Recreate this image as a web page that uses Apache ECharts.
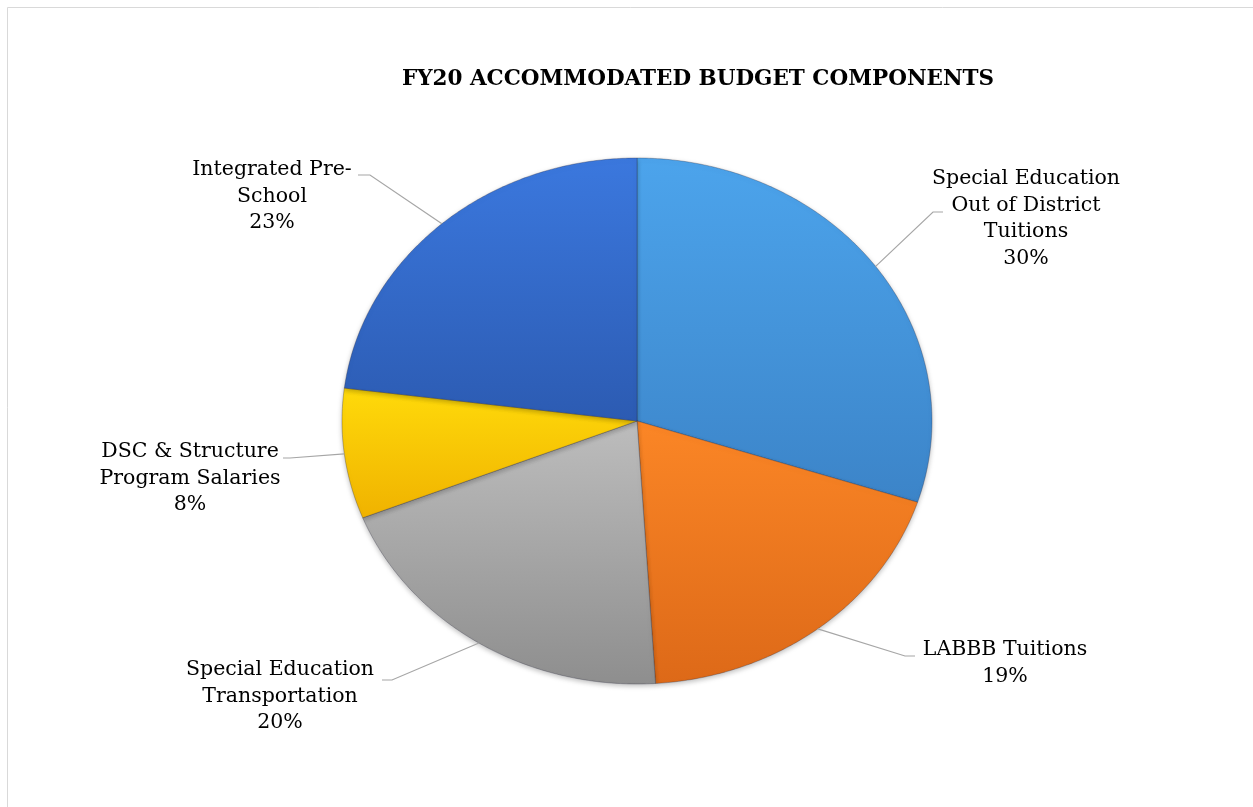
<!DOCTYPE html>
<html>
<head>
<meta charset="utf-8">
<script src="https://cdn.jsdelivr.net/npm/echarts@6/dist/echarts.min.js"></script>
<style>
  html, body { margin: 0; padding: 0; background: #ffffff; }
  #chart { width: 1253px; height: 807px; }
</style>
</head>
<body>
<div id="chart"></div>
<script>
// Budget components, in slice order clockwise from 12 o'clock
const categories = [
  'Special Education Out of District Tuitions',
  'LABBB Tuitions',
  'Special Education Transportation',
  'DSC & Structure Program Salaries',
  'Integrated Pre-School'
];
const shares = [30, 19, 20, 8, 23];
const labelTexts = [
  ['Special Education', 'Out of District', 'Tuitions'],
  ['LABBB Tuitions'],
  ['Special Education', 'Transportation'],
  ['DSC & Structure', 'Program Salaries'],
  ['Integrated Pre-', 'School']
];

// Slice fills: each slice lighter at its top, darker at its bottom
const sliceColors = [
  ['#4CA4EC', '#3C84C8'],
  ['#FB8626', '#DD6918'],
  ['#BDBDBD', '#8E8E8E'],
  ['#FFDA0A', '#F0B200'],
  ['#3B78DE', '#2C5BB2']
];

// Pie geometry (tilted, so drawn as an ellipse)
const CX = 637, CY = 421, RX = 295, RY = 263;

// Label placement: text centre (tx, first line y), leader elbow (ex, ey), leader end hx
const labelLayout = [
  { tx: 1026, ty: 179, ex: 933, ey: 212, hx: 943 },
  { tx: 1005, ty: 650, ex: 905, ey: 656, hx: 915 },
  { tx: 280,  ty: 670, ex: 392, ey: 680, hx: 382 },
  { tx: 190,  ty: 452, ex: 290, ey: 458, hx: 283 },
  { tx: 272,  ty: 170, ex: 370, ey: 175, hx: 358 }
];

const FONT = '"DejaVu Serif", "Liberation Serif", serif';
const LINE_H = 26.5;

const total = shares.reduce((a, b) => a + b, 0);
const cumulative = [];
shares.reduce((acc, v, i) => { cumulative[i] = acc; return acc + v; }, 0);

function edgePoint(t) {
  return [CX + RX * Math.sin(t), CY - RY * Math.cos(t)];
}

function renderItem(params, api) {
  const i = params.dataIndex;
  const v = api.value(0);
  const start = cumulative[i] / total * Math.PI * 2;
  const end = start + v / total * Math.PI * 2;
  const steps = Math.max(8, Math.ceil((end - start) / 0.01));
  const pts = [[CX, CY]];
  for (let k = 0; k <= steps; k++) {
    pts.push(edgePoint(start + (end - start) * k / steps));
  }
  const mid = (start + end) / 2;
  const lay = labelLayout[i];
  const pct = Math.round(v / total * 100) + '%';
  const lines = labelTexts[i].concat([pct]);
  return {
    type: 'group',
    children: [
      {
        type: 'polygon',
        shape: { points: pts },
        style: {
          fill: new echarts.graphic.LinearGradient(0, 0, 0, 1, [
            { offset: 0, color: sliceColors[i][0] },
            { offset: 1, color: sliceColors[i][1] }
          ]),
          stroke: 'rgba(40,40,60,0.3)',
          lineWidth: 1,
          shadowBlur: 5,
          shadowOffsetY: 2,
          shadowColor: 'rgba(0,0,0,0.25)'
        }
      },
      {
        type: 'polyline',
        shape: { points: [edgePoint(mid), [lay.ex, lay.ey], [lay.hx, lay.ey]] },
        style: { stroke: '#a6a6a6', lineWidth: 1.2, fill: null },
        z2: 10
      },
      {
        type: 'text',
        x: lay.tx,
        y: lay.ty - LINE_H / 2,
        style: {
          text: lines.join('\n'),
          fill: '#000000',
          font: '20.5px ' + FONT,
          lineHeight: LINE_H,
          align: 'center',
          verticalAlign: 'top'
        },
        z2: 10
      }
    ]
  };
}

const chart = echarts.init(document.getElementById('chart'), null, { renderer: 'canvas' });
chart.setOption({
  backgroundColor: '#ffffff',
  animation: false,
  title: {
    text: 'FY20 ACCOMMODATED BUDGET COMPONENTS',
    left: 693,
    top: 63,
    textAlign: 'center',
    textStyle: {
      fontFamily: FONT,
      fontWeight: 'bold',
      fontSize: 21.5,
      color: '#000000'
    }
  },
  graphic: [
    {
      type: 'rect',
      shape: { x: 7.5, y: 7.5, width: 1300, height: 900 },
      style: { fill: null, stroke: '#d9d9d9', lineWidth: 1 },
      silent: true
    }
  ],
  series: [
    {
      type: 'custom',
      coordinateSystem: 'none',
      renderItem: renderItem,
      data: shares.map((v, i) => ({ name: categories[i], value: [v] }))
    }
  ]
});
</script>
</body>
</html>
